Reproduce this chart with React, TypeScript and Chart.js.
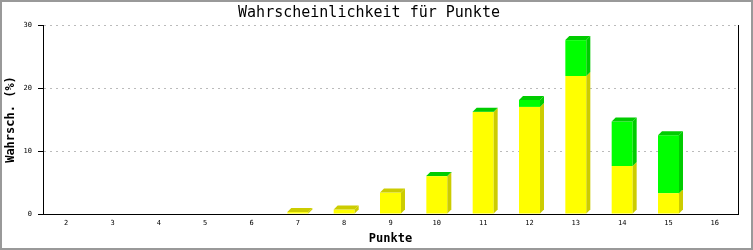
import React, { useEffect, useRef } from "react";
import { Chart, registerables } from "chart.js";

Chart.register(...registerables);

const titleText = "Wahrscheinlichkeit für Punkte";
const xTitle = "Punkte";
const yTitle = "Wahrsch. (%)";
const categories = ["2", "3", "4", "5", "6", "7", "8", "9", "10", "11", "12", "13", "14", "15", "16"];
const yellowValues = [0, 0, 0, 0, 0, 0.3, 0.7, 3.4, 6.0, 16.2, 17.0, 21.9, 7.6, 3.3, 0];
const greenValues = [0, 0, 0, 0, 0, 0, 0, 0, 0.05, 0.05, 1.1, 5.7, 7.1, 9.2, 0];
const yTicks = [0, 10, 20, 30];

const MONO = "'DejaVu Sans Mono', 'Liberation Mono', monospace";

const depth = 4;
const darkColors = ["#cccc00", "#00cc00"];

const bar3d = {
  id: "bar3d",
  afterDatasetsDraw(chart: any) {
    const ctx = chart.ctx;
    const n = chart.data.labels.length;
    const nd = chart.data.datasets.length;
    ctx.save();
    for (let j = 0; j < n; j++) {
      let topSeg: any = null;
      let topIdx = -1;
      for (let di = 0; di < nd; di++) {
        const val = chart.data.datasets[di].data[j];
        if (!val) continue;
        const el = chart.getDatasetMeta(di).data[j];
        const p = el.getProps(["x", "y", "base", "width"], true);
        const right = p.x + p.width / 2;
        ctx.fillStyle = darkColors[di];
        ctx.beginPath();
        ctx.moveTo(right, p.y);
        ctx.lineTo(right + depth, p.y - depth);
        ctx.lineTo(right + depth, p.base - depth);
        ctx.lineTo(right, p.base);
        ctx.closePath();
        ctx.fill();
        topSeg = p;
        topIdx = di;
      }
      if (topSeg) {
        const left = topSeg.x - topSeg.width / 2;
        const right = topSeg.x + topSeg.width / 2;
        ctx.fillStyle = darkColors[topIdx];
        ctx.beginPath();
        ctx.moveTo(left, topSeg.y);
        ctx.lineTo(left + depth, topSeg.y - depth);
        ctx.lineTo(right + depth, topSeg.y - depth);
        ctx.lineTo(right, topSeg.y);
        ctx.closePath();
        ctx.fill();
      }
    }
    ctx.restore();
  },
  afterDraw(chart: any) {
    const ctx = chart.ctx;
    const a = chart.chartArea;
    ctx.save();
    ctx.strokeStyle = "#000";
    ctx.lineWidth = 1;
    ctx.beginPath();
    const rx = Math.round(a.right) + 0.5;
    ctx.moveTo(rx, a.top);
    ctx.lineTo(rx, a.bottom + 0.5);
    ctx.stroke();
    ctx.strokeStyle = "#999999";
    ctx.lineWidth = 2;
    ctx.strokeRect(1, 1, chart.width - 2, chart.height - 2);
    ctx.restore();
  },
  beforeDraw(chart: any) {
    const ctx = chart.ctx;
    ctx.save();
    ctx.fillStyle = "#ffffff";
    ctx.fillRect(0, 0, chart.width, chart.height);
    ctx.restore();
  },
};

export default function App() {
  const ref = useRef<HTMLCanvasElement | null>(null);
  useEffect(() => {
    document.body.style.margin = "0";
    const chart = new Chart(ref.current as HTMLCanvasElement, {
      type: "bar",
      data: {
        labels: categories,
        datasets: [
          {
            label: "a",
            data: yellowValues,
            backgroundColor: "#ffff00",
            borderWidth: 0,
            categoryPercentage: 1,
            barPercentage: 0.453,
          },
          {
            label: "b",
            data: greenValues,
            backgroundColor: "#00ff00",
            borderWidth: 0,
            categoryPercentage: 1,
            barPercentage: 0.453,
          },
        ],
      },
      options: {
        animation: false,
        responsive: false,
        devicePixelRatio: 1,
        layout: { padding: { left: 0, right: 15, top: 0, bottom: 0 } },
        plugins: {
          legend: { display: false },
          tooltip: { enabled: false },
          title: {
            display: true,
            text: titleText,
            color: "#000",
            font: { family: MONO, size: 15, weight: "normal" },
            padding: { top: 4, bottom: 3 },
          },
        },
        scales: {
          x: {
            stacked: true,
            grid: { display: false, drawTicks: false },
            border: { display: true, color: "#000", width: 1 },
            ticks: {
              color: "#000",
              font: { family: MONO, size: 7 },
              padding: 5,
              maxRotation: 0,
              autoSkip: false,
            },
            title: {
              display: true,
              text: xTitle,
              color: "#000",
              font: { family: MONO, size: 12, weight: "bold" },
              padding: { top: 0, bottom: 4 },
            },
            afterFit: (s: any) => {
              s.height = 36;
            },
          },
          y: {
            stacked: true,
            min: 0,
            max: 30,
            afterBuildTicks: (s: any) => {
              s.ticks = yTicks.map((v) => ({ value: v }));
            },
            grid: {
              color: (c: any) => (c.tick && c.tick.value === 0 ? "rgba(0,0,0,0)" : "#bbbbbb"),
              tickColor: "#000",
              tickLength: 5,
              lineWidth: 1,
            },
            border: { display: true, color: "#000", width: 1, dash: [2, 4] },
            ticks: {
              color: "#000",
              font: { family: MONO, size: 7 },
              padding: 6,
            },
            title: {
              display: true,
              text: yTitle,
              color: "#000",
              font: { family: MONO, size: 12, weight: "bold" },
              padding: { top: 4, bottom: 0 },
            },
            afterFit: (s: any) => {
              s.width = 43;
            },
          },
        },
      },
      plugins: [bar3d],
    });
    return () => chart.destroy();
  }, []);
  return (
    <div style={{ position: "fixed", left: 0, top: 0, width: 753, height: 250 }}>
      <canvas ref={ref} width={753} height={250} style={{ width: 753, height: 250, display: "block" }} />
    </div>
  );
}
